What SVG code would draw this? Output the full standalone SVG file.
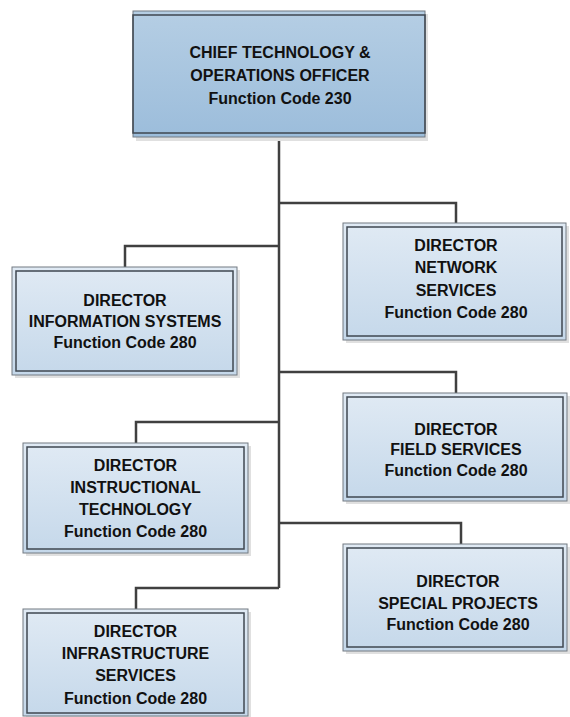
<svg xmlns="http://www.w3.org/2000/svg" width="570" height="717" viewBox="0 0 570 717">
<defs>
<linearGradient id="gTop" x1="0" y1="0" x2="0" y2="1">
<stop offset="0" stop-color="#b5cee4"/>
<stop offset="1" stop-color="#9cbddb"/>
</linearGradient>
<linearGradient id="gDir" x1="0" y1="0" x2="0" y2="1">
<stop offset="0" stop-color="#e0eaf4"/>
<stop offset="1" stop-color="#c5d8ea"/>
</linearGradient>
</defs>
<style>
.sh{fill:#e0e0e0}
.o{stroke:#737a82;stroke-width:1}
.i{fill:none;stroke:#3f4750;stroke-width:1.5}
.t{font-family:"Liberation Sans",Arial,sans-serif;font-weight:bold;font-size:16px;fill:#111;text-anchor:middle}
.c{fill:none;stroke:#404040;stroke-width:2.5}
</style>
<g id="connectors">
<path class="c" d="M279 137 V588"/>
<path class="c" d="M279 203 H456 V223"/>
<path class="c" d="M279 246 H125 V267"/>
<path class="c" d="M279 372 H456 V393"/>
<path class="c" d="M279 422 H136 V443"/>
<path class="c" d="M279 523 H461 V544"/>
<path class="c" d="M279 588 H136 V609"/>
</g>
<g id="cto">
<rect class="sh" x="136" y="14" width="292" height="127"/>
<rect class="o" x="133" y="11" width="292" height="126" fill="url(#gTop)"/>
<rect class="i" x="133" y="15" width="292" height="118"/>
<text class="t" x="280" y="58">CHIEF TECHNOLOGY &amp;</text>
<text class="t" x="280" y="81">OPERATIONS OFFICER</text>
<text class="t" x="280" y="104">Function Code 230</text>
</g>
<g id="info-systems">
<rect class="sh" x="15" y="270" width="225" height="108"/>
<rect class="o" x="12" y="267" width="225" height="108" fill="url(#gDir)"/>
<rect class="i" x="16" y="271" width="217" height="100"/>
<text class="t" x="125" y="306">DIRECTOR</text>
<text class="t" x="125" y="327">INFORMATION SYSTEMS</text>
<text class="t" x="125" y="348">Function Code 280</text>
</g>
<g id="network">
<rect class="sh" x="346" y="226" width="223" height="117"/>
<rect class="o" x="343" y="223" width="223" height="117" fill="url(#gDir)"/>
<rect class="i" x="347" y="227" width="215" height="109"/>
<text class="t" x="456" y="251">DIRECTOR</text>
<text class="t" x="456" y="273">NETWORK</text>
<text class="t" x="456" y="296">SERVICES</text>
<text class="t" x="456" y="318">Function Code 280</text>
</g>
<g id="field">
<rect class="sh" x="346" y="396" width="224" height="108"/>
<rect class="o" x="343" y="393" width="224" height="108" fill="url(#gDir)"/>
<rect class="i" x="347" y="397" width="216" height="100"/>
<text class="t" x="456" y="435">DIRECTOR</text>
<text class="t" x="456" y="455">FIELD SERVICES</text>
<text class="t" x="456" y="476">Function Code 280</text>
</g>
<g id="instructional">
<rect class="sh" x="26" y="446" width="225" height="110"/>
<rect class="o" x="23" y="443" width="225" height="110" fill="url(#gDir)"/>
<rect class="i" x="27" y="447" width="217" height="102"/>
<text class="t" x="135.5" y="471">DIRECTOR</text>
<text class="t" x="135.5" y="493">INSTRUCTIONAL</text>
<text class="t" x="135.5" y="515">TECHNOLOGY</text>
<text class="t" x="135.5" y="537">Function Code 280</text>
</g>
<g id="special-projects">
<rect class="sh" x="346" y="547" width="224" height="107"/>
<rect class="o" x="343" y="544" width="224" height="107" fill="url(#gDir)"/>
<rect class="i" x="347" y="548" width="216" height="99"/>
<text class="t" x="458" y="587">DIRECTOR</text>
<text class="t" x="458" y="609">SPECIAL PROJECTS</text>
<text class="t" x="458" y="630">Function Code 280</text>
</g>
<g id="infrastructure">
<rect class="sh" x="26" y="612" width="225" height="108"/>
<rect class="o" x="23" y="609" width="225" height="107" fill="url(#gDir)"/>
<rect class="i" x="27" y="613" width="217" height="100"/>
<text class="t" x="135.5" y="637">DIRECTOR</text>
<text class="t" x="135.5" y="659">INFRASTRUCTURE</text>
<text class="t" x="135.5" y="681">SERVICES</text>
<text class="t" x="135.5" y="704">Function Code 280</text>
</g>
</svg>
